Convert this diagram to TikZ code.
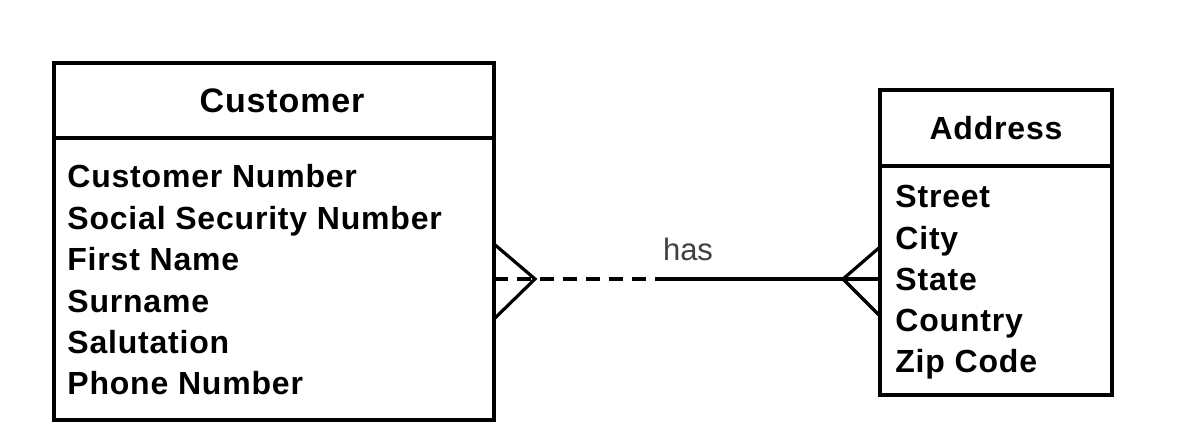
\documentclass[tikz,border=0pt]{standalone}
\usepackage{fontspec}
\setmainfont{Liberation Sans}
\newfontfamily\erfont[LetterSpace=2.5]{Liberation Sans}
\usetikzlibrary{positioning,calc}

\tikzset{
	entbox/.style={draw, line width=1.6pt, inner sep=0pt, outer sep=0pt},
	enthead/.style={entbox, font=\erfont\fontsize{17}{20}\selectfont\bfseries},
	attr/.style={anchor=base west, inner sep=0pt, font=\erfont\fontsize{16}{19}\selectfont\bfseries},
	rellabel/.style={inner sep=0pt, text=black!75, font=\fontsize{15.5}{18}\selectfont},
	relline/.style={line width=1.6pt},
	crowfoot/.style={line width=1.6pt, line join=miter}
}

\begin{document}
\begin{tikzpicture}[x=1pt,y=1pt]
\useasboundingbox (0,0) rectangle (592,222);

% Customer entity
\node[enthead, minimum width=220pt, minimum height=37.5pt] (cust) at (137,171.75) {\hspace{8pt}Customer};
\node[entbox, minimum width=220pt, minimum height=141pt, below=0pt of cust] (custbody) {};
\node[attr] (cnumber) at (33.5,128) {Customer Number};
\node[attr] (cssn) at (33.5,107.3) {Social Security Number};
\node[attr] (cfirst) at (33.5,86.6) {First Name};
\node[attr] (csurname) at (33.5,65.9) {Surname};
\node[attr] (csalut) at (33.5,45.2) {Salutation};
\node[attr] (cphone) at (33.5,24.5) {Phone Number};

% Address entity
\node[enthead, minimum width=116pt, minimum height=38pt, font=\erfont\fontsize{16}{19}\selectfont\bfseries] (addr) at (498,158) {Address};
\node[entbox, minimum width=116pt, minimum height=114.5pt, below=0pt of addr] (addrbody) {};
\node[attr] (astreet) at (447.5,118) {Street};
\node[attr] (acity) at (447.5,97.4) {City};
\node[attr] (astate) at (447.5,76.8) {State};
\node[attr] (acountry) at (447.5,56.2) {Country};
\node[attr] (azip) at (447.5,35.6) {Zip Code};

% relationship
\coordinate (brk) at (334.5,0);
\draw[relline, dash pattern=on 7pt off 4.5pt] (custbody.east) -- (custbody.east -| brk);
\draw[relline] (custbody.east -| brk) -- (custbody.east -| addrbody.west);
\node[rellabel] (has) at (344,97.5) {has};

% crow's feet
\draw[crowfoot] ($(custbody.east)+(0,17.5)$) -- ($(custbody.east)+(20.5,0)$) -- ($(custbody.east)+(0,-20)$);
\draw[crowfoot] ($(custbody.east -| addrbody.west)+(0,16)$) -- ($(custbody.east -| addrbody.west)+(-18.5,0)$) -- ($(custbody.east -| addrbody.west)+(0,-18.5)$);

\end{tikzpicture}
\end{document}
